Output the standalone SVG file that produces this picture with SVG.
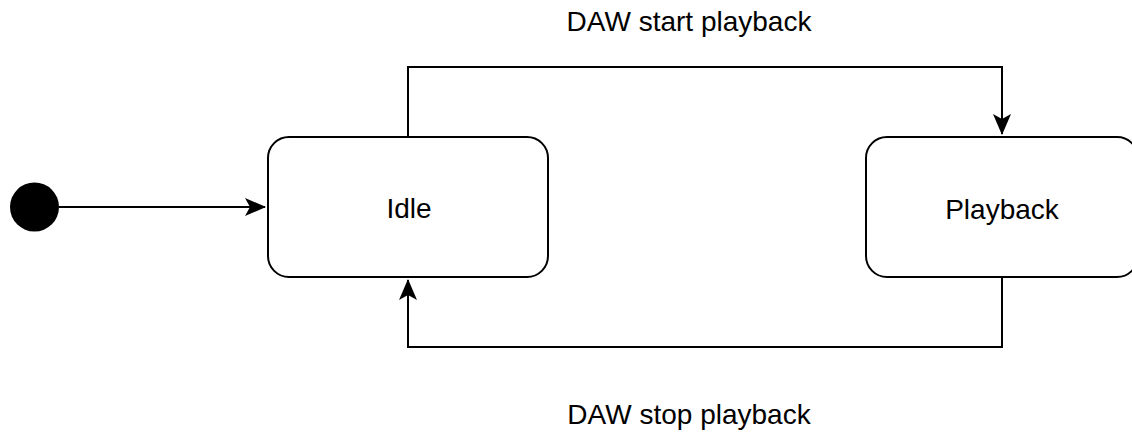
<svg xmlns="http://www.w3.org/2000/svg" width="1132" height="436" viewBox="0 0 1132 436">
<style>
.state{fill:#ffffff;stroke:#000000;stroke-width:2}
.lbl{font-family:"Liberation Sans",Arial,sans-serif;font-size:28px;fill:#000000;text-anchor:middle}
.edge{fill:none;stroke:#000000;stroke-width:2}
</style>
<defs>
<marker id="arr" markerUnits="userSpaceOnUse" markerWidth="26" markerHeight="22" viewBox="-22 -11 26 22" refX="0" refY="0" orient="auto">
<path d="M1,0 L-20,-9 L-15,0 L-20,9 Z" fill="#000000"/>
</marker>
</defs>
<rect width="1132" height="436" fill="#ffffff"/>
<g id="connectors">
<path class="edge" d="M59,207 L265,207" marker-end="url(#arr)"/>
<path class="edge" d="M408,137 L408,67 L1002,67 L1002,134" marker-end="url(#arr)"/>
<path class="edge" d="M1002,277 L1002,347 L408,347 L408,280" marker-end="url(#arr)"/>
</g>
<g id="initial">
<circle cx="34.5" cy="207" r="24.5" fill="#000000"/>
</g>
<g id="idle">
<rect class="state" x="268" y="137" width="280" height="140" rx="21" ry="21"/>
<text class="lbl" x="409" y="218">Idle</text>
</g>
<g id="playback">
<rect class="state" x="866" y="137" width="272" height="140" rx="21" ry="21"/>
<text class="lbl" x="1002" y="219">Playback</text>
</g>
<g id="edge-labels">
<text class="lbl" x="689" y="31">DAW start playback</text>
<text class="lbl" x="689" y="424">DAW stop playback</text>
</g>
</svg>
